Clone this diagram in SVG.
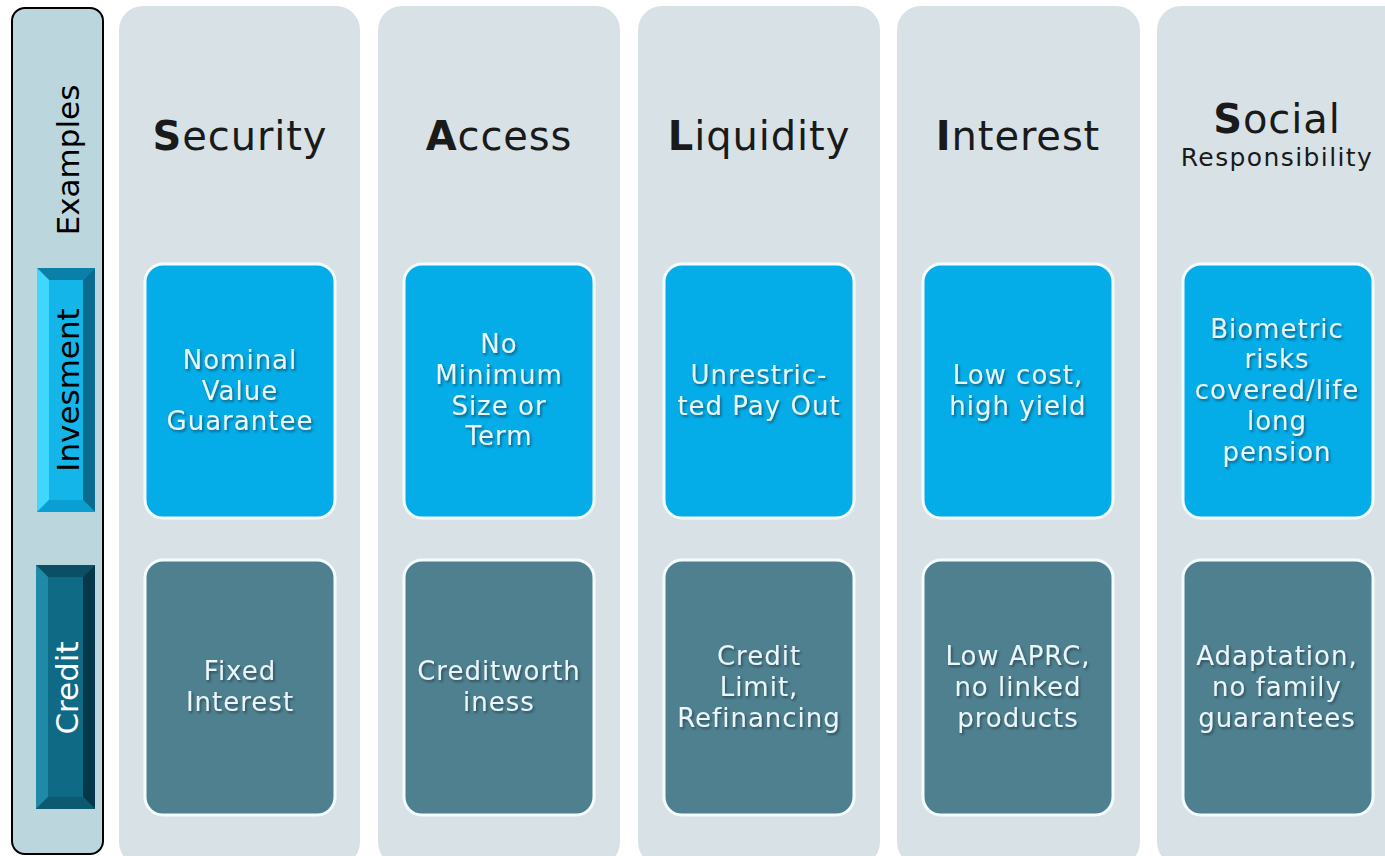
<svg xmlns="http://www.w3.org/2000/svg" width="1385" height="856" viewBox="0 0 1385 856">
<defs>
<style>
.col{fill:#d8e2e6}
.inv{fill:#04ace8;stroke:#f4fbfd;stroke-width:3}
.cre{fill:#4f808f;stroke:#f4fbfd;stroke-width:3}
.title{font-family:"DejaVu Sans",Verdana,sans-serif;font-size:40px;letter-spacing:0.9px;fill:#1a1a1a;text-anchor:middle}
.sub{font-family:"DejaVu Sans",Verdana,sans-serif;font-size:25px;letter-spacing:1.4px;fill:#1a1a1a;text-anchor:middle}
.bt{font-family:"DejaVu Sans",Verdana,sans-serif;font-size:26px;letter-spacing:1px;fill:#eaf6fa;text-anchor:middle;filter:url(#sh)}
.side{font-family:"DejaVu Sans",Verdana,sans-serif;font-size:31px;text-anchor:middle}
</style>
<filter id="sh" x="-10%" y="-10%" width="120%" height="130%">
<feDropShadow dx="1.5" dy="2" stdDeviation="1" flood-color="#0a2a36" flood-opacity="0.55"/>
</filter>
</defs>
<rect width="1385" height="856" fill="#ffffff"/>

<g id="sidebar">
<rect x="12" y="8" width="91" height="846" rx="13" fill="#bcd6de" stroke="#000" stroke-width="2"/>
<text class="side" transform="translate(79,160) rotate(-90)" fill="#000">Examples</text>
</g>

<g id="btn-invesment">
<rect x="37" y="268" width="58" height="244" fill="#14b6ea"/>
<polygon points="37,268 95,268 83,280 49,280" fill="#0a7fa8"/>
<polygon points="37,268 49,280 49,500 37,512" fill="#3fd6ff"/>
<polygon points="95,268 95,512 83,500 83,280" fill="#0b6b8e"/>
<polygon points="37,512 95,512 83,500 49,500" fill="#0a9fd2"/>
<text class="side" transform="translate(79,390) rotate(-90)" fill="#000">Invesment</text>
</g>

<g id="btn-credit">
<rect x="36" y="565" width="59" height="244" fill="#0f6a86"/>
<polygon points="36,565 95,565 83,577 48,577" fill="#0a4f66"/>
<polygon points="36,565 48,577 48,797 36,809" fill="#2189a8"/>
<polygon points="95,565 95,809 83,797 83,577" fill="#06384a"/>
<polygon points="36,809 95,809 83,797 48,797" fill="#0c5a72"/>
<text class="side" transform="translate(78,688) rotate(-90)" fill="#ffffff">Credit</text>
</g>

<g id="col-security">
<rect class="col" x="119" y="6" width="241" height="860" rx="24"/>
<text class="title" x="240" y="150"><tspan font-weight="bold">S</tspan>ecurity</text>
<rect class="inv" x="145" y="264" width="190" height="254" rx="18"/>
<text class="bt" x="240" y="369">Nominal<tspan x="240" dy="31">Value</tspan><tspan x="240" dy="30">Guarantee</tspan></text>
<rect class="cre" x="145" y="560" width="190" height="255" rx="18"/>
<text class="bt" x="240" y="680">Fixed<tspan x="240" dy="31">Interest</tspan></text>
</g>

<g id="col-access">
<rect class="col" x="378" y="6" width="242" height="860" rx="24"/>
<text class="title" x="499" y="150"><tspan font-weight="bold">A</tspan>ccess</text>
<rect class="inv" x="404" y="264" width="190" height="254" rx="18"/>
<text class="bt" x="499" y="353">No<tspan x="499" dy="31">Minimum</tspan><tspan x="499" dy="31">Size or</tspan><tspan x="499" dy="30">Term</tspan></text>
<rect class="cre" x="404" y="560" width="190" height="255" rx="18"/>
<text class="bt" x="499" y="680">Creditworth<tspan x="499" dy="31">iness</tspan></text>
</g>

<g id="col-liquidity">
<rect class="col" x="638" y="6" width="242" height="860" rx="24"/>
<text class="title" x="759" y="150"><tspan font-weight="bold">L</tspan>iquidity</text>
<rect class="inv" x="664" y="264" width="190" height="254" rx="18"/>
<text class="bt" x="759" y="384">Unrestric-<tspan x="759" dy="31">ted Pay Out</tspan></text>
<rect class="cre" x="664" y="560" width="190" height="255" rx="18"/>
<text class="bt" x="759" y="665">Credit<tspan x="759" dy="31">Limit,</tspan><tspan x="759" dy="31">Refinancing</tspan></text>
</g>

<g id="col-interest">
<rect class="col" x="897" y="6" width="243" height="860" rx="24"/>
<text class="title" x="1018" y="150"><tspan font-weight="bold">I</tspan>nterest</text>
<rect class="inv" x="923" y="264" width="190" height="254" rx="18"/>
<text class="bt" x="1018" y="384">Low cost,<tspan x="1018" dy="31">high yield</tspan></text>
<rect class="cre" x="923" y="560" width="190" height="255" rx="18"/>
<text class="bt" x="1018" y="665">Low APRC,<tspan x="1018" dy="31">no linked</tspan><tspan x="1018" dy="31">products</tspan></text>
</g>

<g id="col-social">
<rect class="col" x="1157" y="6" width="250" height="860" rx="24"/>
<text class="title" x="1277" y="133"><tspan font-weight="bold">S</tspan>ocial</text>
<text class="sub" x="1277" y="166">Responsibility</text>
<rect class="inv" x="1183" y="264" width="190" height="254" rx="18"/>
<text class="bt" x="1277" y="338">Biometric<tspan x="1277" dy="30">risks</tspan><tspan x="1277" dy="31">covered/life</tspan><tspan x="1277" dy="31">long</tspan><tspan x="1277" dy="31">pension</tspan></text>
<rect class="cre" x="1183" y="560" width="190" height="255" rx="18"/>
<text class="bt" x="1277" y="665">Adaptation,<tspan x="1277" dy="31">no family</tspan><tspan x="1277" dy="31">guarantees</tspan></text>
</g>

<g id="connectors"></g>
</svg>
